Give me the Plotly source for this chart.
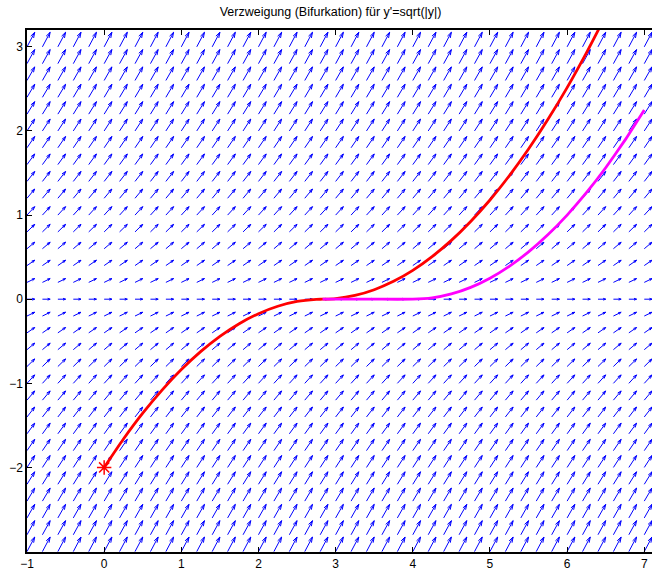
import numpy as np
import plotly.graph_objects as go

# Direction field grid for y' = sqrt(|y|)
grid_x = [round(-1 + 0.2 * i, 2) for i in range(41)]      # -1 .. 7
grid_y = [round(-3 + 0.2 * j, 2) for j in range(32)]      # -3 .. 3.2
arrow_scale = 0.1

# Red solution starting at (0, -2)
red_x = [0, 0.25, 0.5, 0.75, 1.0, 1.25, 1.5, 1.75, 2.0, 2.25, 2.5, 2.75, 2.83,
         3.0, 3.25, 3.5, 3.75, 4.0, 4.25, 4.5, 4.75, 5.0, 5.25, 5.5, 5.75, 6.0, 6.25, 6.5]
red_y = [-2.0, -1.662, -1.355, -1.080, -0.836, -0.623, -0.441, -0.291, -0.172, -0.084,
         -0.027, -0.002, 0.0, 0.0074, 0.0445, 0.113, 0.2125, 0.343, 0.506, 0.699, 0.924,
         1.179, 1.467, 1.785, 2.135, 2.515, 2.928, 3.371]

# Magenta branch (stays on y=0 until x=4)
mag_x = [2.83, 3.2, 3.6, 4.0, 4.25, 4.5, 4.75, 5.0, 5.25, 5.5, 5.75, 6.0, 6.25, 6.5, 6.75, 7.0]
mag_y = [0.0, 0.0, 0.0, 0.0, 0.0156, 0.0625, 0.1406, 0.25, 0.3906, 0.5625, 0.7656,
         1.0, 1.2656, 1.5625, 1.8906, 2.25]

start_x = [0]
start_y = [-2]

# build quiver segments (MATLAB-style arrowheads)
alpha, beta = 0.33, 0.33
qx, qy = [], []
for y in grid_y:
    for x in grid_x:
        u = arrow_scale * 1.0
        v = arrow_scale * np.sqrt(abs(y))
        tx, ty = x + u, y + v
        qx += [x, tx, None]
        qy += [y, ty, None]
        h1x = tx - alpha * (u + beta * v)
        h1y = ty - alpha * (v - beta * u)
        h2x = tx - alpha * (u - beta * v)
        h2y = ty - alpha * (v + beta * u)
        qx += [h1x, tx, h2x, None]
        qy += [h1y, ty, h2y, None]

fig = go.Figure()
fig.add_trace(go.Scatter(x=qx, y=qy, mode="lines",
                         line=dict(color="rgb(0,0,255)", width=1),
                         hoverinfo="skip", showlegend=False))
fig.add_trace(go.Scatter(x=red_x, y=red_y, mode="lines",
                         line=dict(color="rgb(255,0,0)", width=2.8, shape="spline", smoothing=0.6),
                         showlegend=False))
fig.add_trace(go.Scatter(x=mag_x, y=mag_y, mode="lines",
                         line=dict(color="rgb(255,0,255)", width=2.8, shape="spline", smoothing=0.3),
                         showlegend=False))
fig.add_trace(go.Scatter(x=start_x, y=start_y, mode="markers",
                         marker=dict(symbol="asterisk-open", size=12, color="rgb(255,0,0)",
                                     line=dict(color="rgb(255,0,0)", width=1.5)),
                         showlegend=False))

fig.update_layout(
    width=652, height=570,
    margin=dict(l=27, r=0, t=30, b=18, autoexpand=False),
    paper_bgcolor="white", plot_bgcolor="white",
    font=dict(family="Liberation Sans, Arial, sans-serif", size=12, color="black"),
    title=dict(text="Verzweigung (Bifurkation) für y'=sqrt(|y|)",
               x=0.507, xanchor="center", y=0.979, yanchor="middle",
               font=dict(size=12.5)),
    xaxis=dict(range=[-1, 7.1], tickvals=[-1, 0, 1, 2, 3, 4, 5, 6, 7],
               showgrid=False, zeroline=False, showline=True, linecolor="black",
               linewidth=1.5, mirror="ticks", ticks="inside", ticklen=5,
               tickcolor="black", tickfont=dict(size=12), automargin=False,
               ticklabelstandoff=0),
    yaxis=dict(range=[-3.005, 3.2], tickvals=[-2, -1, 0, 1, 2, 3],
               showgrid=False, zeroline=False, showline=True, linecolor="black",
               linewidth=1.5, ticks="inside", ticklen=5, tickcolor="black",
               tickfont=dict(size=12), automargin=False),
)

fig.write_html("out.html", config={"displayModeBar": False},
               post_script="document.body.style.margin='0';document.body.style.overflow='hidden';")
